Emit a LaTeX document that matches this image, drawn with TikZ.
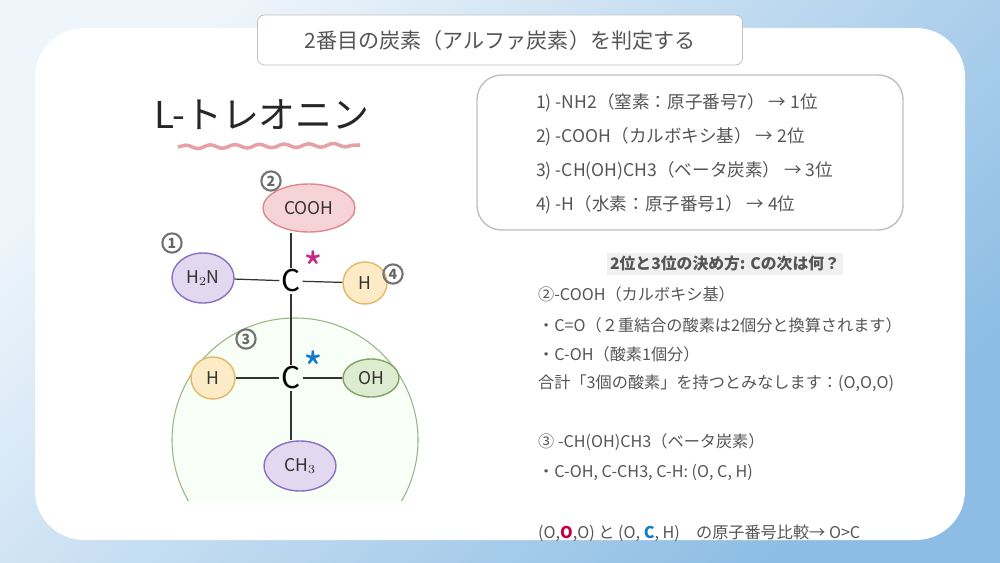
\documentclass[tikz,border=0pt]{standalone}
\usepackage{fontspec}
\setmainfont{Noto Sans CJK JP}
\usetikzlibrary{shapes.geometric,decorations.pathmorphing}
\definecolor{txt}{HTML}{555555}
\definecolor{pinkf}{HTML}{F6D3D6}
\definecolor{pinkd}{HTML}{E08890}
\definecolor{purf}{HTML}{E2D9F1}
\definecolor{purd}{HTML}{8A70C0}
\definecolor{yelf}{HTML}{FCEBC6}
\definecolor{yeld}{HTML}{E2B966}
\definecolor{grnf}{HTML}{DDEBD0}
\definecolor{grnd}{HTML}{7FA466}
\definecolor{skyb}{HTML}{8DBDE4}
\begin{document}
\begin{tikzpicture}[x=0.02cm,y=-0.02cm,
  grp/.style={draw, ellipse, line width=0.8pt, inner sep=0pt, font=\fontsize{10}{10}\selectfont, text=black!80},
  atom/.style={font=\fontsize{17}{17}\selectfont, inner sep=1pt},
  num/.style={draw=black!55, circle, line width=1.2pt, inner sep=0.5pt, minimum size=11pt, text=black!60, font=\fontsize{8}{8}\selectfont\bfseries},
  bond/.style={line width=0.7pt, black!80},
  line/.style={anchor=west, text=txt, font=\fontsize{9.2}{9.2}\selectfont},
  rank/.style={anchor=west, text=txt, font=\fontsize{10}{10}\selectfont}]
% background
\shade[left color=white!85!skyb, right color=skyb, shading angle=45] (0,0) rectangle (1000,563);
\fill[white, rounded corners=28] (35,28) rectangle (965,540);
\useasboundingbox (0,0) rectangle (1000,563);
% title boxes
\node[draw=black!25, fill=white, rounded corners=4, minimum width=485*0.02cm, minimum height=50*0.02cm, text=txt, font=\fontsize{12}{12}\selectfont] (title) at (500,40) {2番目の炭素（アルファ炭素）を判定する};
\draw[black!25, rounded corners=14, line width=0.8pt] (477,75) rectangle (903,230);
\node[font=\fontsize{21}{21}\selectfont, text=black!85] (name) at (262,115) {L-トレオニン};
\draw[pinkd!80, line width=2pt, decorate, decoration={snake, amplitude=1pt, segment length=14pt}] (178,147) -- (360,145);
% molecule
\begin{scope}
\clip (150,300) rectangle (440,500);
\fill[white!97!green] (295,440) ellipse (123 and 122);
\draw[grnd!80, line width=0.6pt] (295,440) ellipse (123 and 122);
\end{scope}
\node[grp, fill=pinkf, draw=pinkd, minimum width=92*0.02cm, minimum height=48*0.02cm] (cooh) at (309,208) {COOH};
\node[atom] (c1) at (291,281) {C};
\node[grp, fill=purf, draw=purd, minimum width=62*0.02cm, minimum height=50*0.02cm] (nh2) at (203,278) {H$_2$N};
\node[grp, fill=yelf, draw=yeld, minimum width=44*0.02cm, minimum height=42*0.02cm] (h1) at (365,283) {H};
\node[atom] (c2) at (291,378) {C};
\node[grp, fill=yelf, draw=yeld, minimum width=44*0.02cm, minimum height=42*0.02cm] (h2) at (213,378) {H};
\node[grp, fill=grnf, draw=grnd, minimum width=56*0.02cm, minimum height=38*0.02cm] (oh) at (371,378) {OH};
\node[grp, fill=purf, draw=purd, minimum width=72*0.02cm, minimum height=50*0.02cm] (ch3) at (300,466) {CH$_3$};
\draw[bond] (c1.north) -- (c1.north |- cooh.south);
\draw[bond] (nh2) -- (c1);
\draw[bond] (c1) -- (h1);
\draw[bond] (c1) -- (c2);
\draw[bond] (h2) -- (c2);
\draw[bond] (c2) -- (oh);
\draw[bond] (c2.south) -- (c2.south |- ch3.north);
\node[text=magenta!80!black, font=\fontsize{24}{24}\selectfont] (s1) at (313,268) {*};
\node[text=cyan!60!blue, font=\fontsize{24}{24}\selectfont] (s2) at (313,368) {*};
\node[num] (n1) at (172,243) {1};
\node[num] (n2) at (271,181) {2};
\node[num] (n3) at (246,339) {3};
\node[num] (n4) at (393,274) {4};
% ranking
\node[rank] (r1) at (530,103) {1) -NH2（窒素：原子番号7） → 1位};
\node[rank] (r2) at (530,137) {2) -COOH（カルボキシ基） → 2位};
\node[rank] (r3) at (530,171) {3) -CH(OH)CH3（ベータ炭素） → 3位};
\node[rank] (r4) at (530,205) {4) -H（水素：原子番号1） → 4位};
% explanation
\node[fill=black!6, text=txt, font=\fontsize{9}{9}\selectfont\bfseries, inner sep=2pt] (head) at (725,264) {2位と3位の決め方: Cの次は何？};
\node[line] (l1) at (532,294) {②-COOH（カルボキシ基）};
\node[line] (l2) at (532,325) {・C=O（２重結合の酸素は2個分と換算されます）};
\node[line] (l3) at (532,354) {・C-OH（酸素1個分）};
\node[line] (l4) at (532,383) {合計「3個の酸素」を持つとみなします：(O,O,O)};
\node[line] (l5) at (532,442) {③ -CH(OH)CH3（ベータ炭素）};
\node[line] (l6) at (532,472) {・C-OH, C-CH3, C-H: (O, C, H)};
\node[line] (l7) at (532,533) {(O,\textcolor{purple}{\textbf{O}},O) と (O, \textcolor{cyan!60!blue}{\textbf{C}}, H)\quad の原子番号比較→ O>C};
\end{tikzpicture}
\end{document}
